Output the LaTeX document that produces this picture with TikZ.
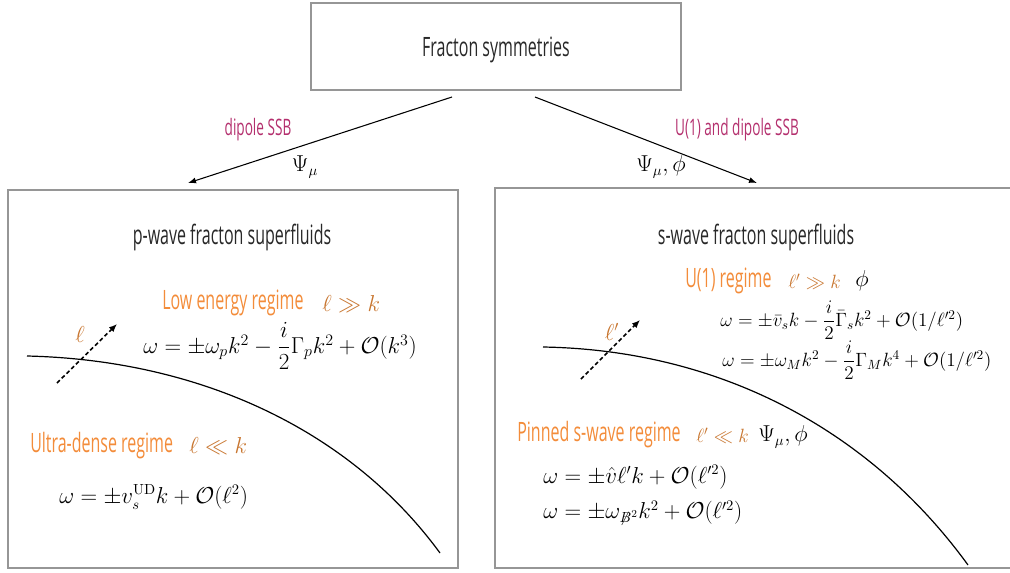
\documentclass[tikz,border=0pt]{standalone}
\usepackage{amsmath}
\usepackage[no-math]{fontspec}
\setmainfont[FakeStretch=0.6]{Open Sans}
\usetikzlibrary{arrows.meta}
\definecolor{boxgray}{RGB}{150,150,150}
\definecolor{regorange}{RGB}{243,140,58}
\definecolor{mathorange}{RGB}{200,118,48}
\definecolor{ssbpink}{RGB}{180,48,110}
\definecolor{textdark}{RGB}{40,40,40}
\tikzset{
  panel/.style={draw=boxgray, line width=2.2pt, inner sep=0pt},
  lbl/.style={font=\fontsize{20}{24}\selectfont, text=textdark, inner sep=0pt},
  regime/.style={lbl, text=regorange},
  ssb/.style={font=\fontsize{17}{20}\selectfont, text=ssbpink, inner sep=0pt},
  eqbig/.style={font=\fontsize{16}{19}\selectfont, inner sep=0pt},
  eqmid/.style={font=\fontsize{16.6}{19}\selectfont, inner sep=0pt},
  eqsmall/.style={font=\fontsize{14.3}{17}\selectfont, inner sep=0pt},
  omath/.style={font=\fontsize{16}{19}\selectfont, text=mathorange, inner sep=0pt},
  omathsmall/.style={font=\fontsize{14}{17}\selectfont, text=mathorange, inner sep=0pt},
  branch/.style={line width=0.8pt, -{Latex[length=6pt,width=4.5pt]}},
  normal/.style={line width=1.2pt, densely dashed, -{Latex[length=6pt,width=5pt]}},
  front/.style={line width=0.9pt},
}
\begin{document}
\begin{tikzpicture}[x=0.75pt, y=-0.75pt]
\clip (0,0) rectangle (1010,572);
% boxes
\node[panel, minimum width=277.5pt, minimum height=65.25pt] (top) at (496,46.5) {};
\node[lbl] (toptxt) at (496,50) {Fracton symmetries};
\node[panel, minimum width=337.5pt, minimum height=283.5pt] (lp) at (233,379) {};
\node[panel, minimum width=405pt, minimum height=285pt] (rp) at (765,378) {};
% branches
\coordinate (la) at (452,97);
\coordinate (lb) at (188,183);
\coordinate (ra) at (535,97);
\coordinate (rb) at (757,183);
\draw[branch] (la) -- (lb);
\draw[branch] (ra) -- (rb);
\node[ssb] (lssb) at (258,130) {dipole SSB};
\node[ssb] (rssb) at (737,130) {U(1) and dipole SSB};
\node[eqbig] (lpsi) at (305,167) {$\Psi_\mu$};
\node[eqbig] (rpsi) at (661,167) {$\Psi_\mu,\phi$};
% left panel
\node[lbl] (ltitle) at (232,237) {p-wave fracton superfluids};
\coordinate (lc0) at (27,356);
\coordinate (lc1) at (200,360);
\coordinate (lc2) at (350,430);
\coordinate (lc3) at (440,553);
\draw[front] (lc0) .. controls (lc1) and (lc2) .. (lc3);
\coordinate (ln0) at (57,383);
\coordinate (ln1) at (117,324);
\draw[normal] (ln0) -- (ln1);
\node[omath] (lell) at (80,334) {$\ell$};
\node[regime, anchor=west] (lowreg) at (162,303) {Low energy regime};
\node[omath, anchor=west] (lowcond) at (322,304) {$\ell\gg k$};
\node[eqmid, anchor=west] (loweq) at (143,346) {$\omega=\pm\omega_p k^2-\dfrac{i}{2}\Gamma_p k^2+\mathcal{O}(k^3)$};
\node[regime, anchor=west] (udreg) at (30,446) {Ultra-dense regime};
\node[omath, anchor=west] (udcond) at (189,446) {$\ell\ll k$};
\node[eqbig, anchor=west] (udeq) at (59,497) {$\omega=\pm v_s^{\mathrm{UD}}k+\mathcal{O}(\ell^2)$};
% right panel
\node[lbl] (rtitle) at (756,237) {s-wave fracton superfluids};
\coordinate (rc0) at (543,347);
\coordinate (rc1) at (720,350);
\coordinate (rc2) at (870,430);
\coordinate (rc3) at (968,565);
\draw[front] (rc0) .. controls (rc1) and (rc2) .. (rc3);
\coordinate (rn0) at (581,379);
\coordinate (rn1) at (640,320);
\draw[normal] (rn0) -- (rn1);
\node[omath] (rell) at (612,332) {$\ell'$};
\node[regime, anchor=west] (u1reg) at (685,281) {U(1) regime};
\node[omathsmall, anchor=west] (u1cond) at (788,282) {$\ell'\gg k$};
\node[eqbig] (u1phi) at (862,281) {$\phi$};
\node[eqsmall, anchor=west] (u1eqa) at (720,320) {$\omega=\pm\bar v_s k-\dfrac{i}{2}\bar\Gamma_s k^2+\mathcal{O}(1/\ell'^2)$};
\node[eqsmall, anchor=west] (u1eqb) at (722,360) {$\omega=\pm\omega_M k^2-\dfrac{i}{2}\Gamma_M k^4+\mathcal{O}(1/\ell'^2)$};
\node[regime, anchor=west] (pinreg) at (517,435) {Pinned s-wave regime};
\node[omathsmall, anchor=west] (pincond) at (696,436) {$\ell'\ll k$};
\node[eqbig, anchor=west] (pinpsi) at (758,437) {$\Psi_\mu,\phi$};
\node[eqbig, anchor=west] (pineqa) at (543,477) {$\omega=\pm\hat v\ell' k+\mathcal{O}(\ell'^2)$};
\node[eqbig, anchor=west] (pineqb) at (543,513) {$\omega=\pm\omega_{\not{B}^2}k^2+\mathcal{O}(\ell'^2)$};
\end{tikzpicture}
\end{document}
